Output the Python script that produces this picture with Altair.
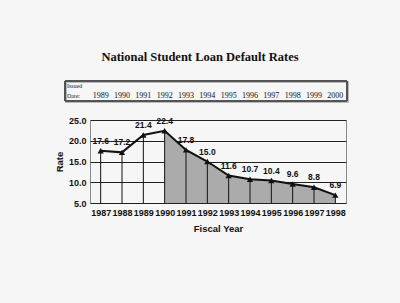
import altair as alt
import pandas as pd

years = [1987, 1988, 1989, 1990, 1991, 1992, 1993, 1994, 1995, 1996, 1997, 1998]
rates = [17.6, 17.2, 21.4, 22.4, 17.8, 15.0, 11.6, 10.7, 10.4, 9.6, 8.8, 6.9]
issued = [1989, 1990, 1991, 1992, 1993, 1994, 1995, 1996, 1997, 1998, 1999, 2000]
shade_from = 1990

df = pd.DataFrame({"year": years, "rate": rates, "issued": issued})
df["label"] = df["rate"].map(lambda v: f"{v:.1f}")

xs = alt.Scale(domain=[1986.5, 1998.5], nice=False, zero=False)
ys = alt.Scale(domain=[5, 25], nice=False, zero=False)

x = alt.X("year:Q", scale=xs, title="Fiscal Year",
          axis=alt.Axis(values=years, format="d", grid=False, ticks=False, domain=False,
                        labelFont="Arial", labelFontWeight="bold", labelFontSize=9,
                        labelColor="#111", labelPadding=5,
                        titleFont="Arial", titleFontWeight="bold", titleFontSize=9.5,
                        titleColor="#111", titlePadding=6))
y = alt.Y("rate:Q", scale=ys, title="Rate",
          axis=alt.Axis(values=[5, 10, 15, 20, 25], format=".1f", grid=True,
                        gridColor="#222", gridWidth=1, ticks=False, domain=False,
                        labelFont="Arial", labelFontWeight="bold", labelFontSize=9,
                        labelColor="#111", labelPadding=4,
                        titleFont="Arial", titleFontWeight="bold", titleFontSize=9.5,
                        titleColor="#111", titlePadding=4))

base = alt.Chart(df)

area = base.transform_filter(alt.datum.year >= shade_from).mark_area(
    color="#ababab", opacity=1).encode(x=x, y=y, y2=alt.datum(5))
rules = base.mark_rule(color="#111", strokeWidth=1).encode(x=x, y=y, y2=alt.datum(5))
line = base.mark_line(color="#111", strokeWidth=2).encode(x=x, y=y)
pts = base.mark_point(shape="triangle-up", filled=True, color="#111", size=40,
                      opacity=1).encode(x=x, y=y)
labels = base.mark_text(font="Arial", fontWeight="bold", fontSize=8.5, dy=-10,
                        color="#111").encode(x=x, y=y, text="label:N")

shadow = base.mark_rect(fillOpacity=0, stroke="#bbb", strokeWidth=1.5).encode(
    x=alt.value(-24), x2=alt.value(258), y=alt.value(-38), y2=alt.value(-18))
box = base.mark_rect(fillOpacity=0, stroke="#555", strokeWidth=1).encode(
    x=alt.value(-25), x2=alt.value(257), y=alt.value(-39), y2=alt.value(-19))
tyears = base.mark_text(font="Liberation Serif", fontSize=8, color="#111",
                        baseline="middle").encode(
    x=x, y=alt.value(-24), text="issued:N")
issued_lbl = alt.Chart(pd.DataFrame({"t": ["Issued", "Date:"], "yy": [-34, -24]})).mark_text(
    font="Liberation Serif", fontSize=6, color="#222", align="left", baseline="middle").encode(
    x=alt.value(-23), y=alt.Y("yy:Q", scale=None), text="t:N")
title = alt.Chart(pd.DataFrame({"t": ["National Student Loan Default Rates"]})).mark_text(
    font="Liberation Serif", fontWeight="bold", fontSize=12.5, color="#111",
    baseline="middle").encode(x=alt.value(110), y=alt.value(-63), text="t:N")

chart = alt.layer(area, rules, line, pts, labels, shadow, box, tyears, issued_lbl, title).properties(
    width=256, height=83,
    autosize=alt.AutoSizeParams(type="none"),
    padding={"left": 90, "top": 120, "right": 54, "bottom": 100},
    background="#f6f6f6",
).configure_view(stroke="#888", strokeWidth=1)

chart.save("out.html", embed_options={"renderer": "svg", "actions": False})
